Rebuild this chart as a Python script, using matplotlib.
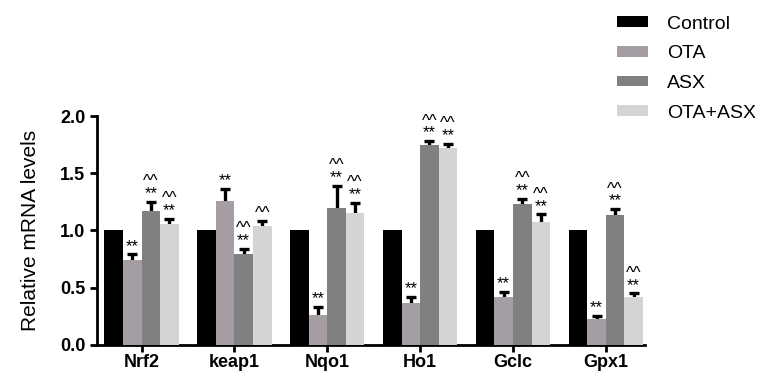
import numpy as np
import matplotlib
matplotlib.use('Agg')
import matplotlib.pyplot as plt

plt.rcParams['font.family'] = ['Liberation Sans', 'DejaVu Sans']

genes = ['Nrf2', 'keap1', 'Nqo1', 'Ho1', 'Gclc', 'Gpx1']
groups = ['Control', 'OTA', 'ASX', 'OTA+ASX']
colors = ['#000000', '#a49ea4', '#808080', '#d4d4d4']

control = [1.0, 1.0, 1.0, 1.0, 1.0, 1.0]
ota = [0.74, 1.26, 0.26, 0.37, 0.42, 0.23]
asx = [1.17, 0.79, 1.20, 1.75, 1.23, 1.135]
ota_asx = [1.06, 1.04, 1.155, 1.72, 1.07, 0.42]

ctrl_err = [0, 0, 0, 0, 0, 0]
ota_err = [0.05, 0.10, 0.07, 0.05, 0.04, 0.02]
asx_err = [0.08, 0.05, 0.19, 0.03, 0.045, 0.05]
ota_asx_err = [0.04, 0.04, 0.085, 0.035, 0.07, 0.03]

# significance marks per bar (written top line first)
ota_sig = ['**', '**', '**', '**', '**', '**']
asx_sig = ['^^\n**'] * 6
ota_asx_sig = ['^^\n**', '^^', '^^\n**', '^^\n**', '^^\n**', '^^\n**']

values = [control, ota, asx, ota_asx]
errors = [ctrl_err, ota_err, asx_err, ota_asx_err]
sigs = [None, ota_sig, asx_sig, ota_asx_sig]

fig = plt.figure(figsize=(7.76, 3.72), dpi=100)
ax = fig.add_axes([0.125, 0.073, 0.706, 0.615])

x = np.arange(len(genes))
w = 0.2
for i in range(4):
    pos = x + (i - 1.5) * w
    # bars drawn over the symmetric error bars so only the upper half shows
    ax.bar(pos, values[i], w, color=colors[i], label=groups[i], zorder=3)
    if i > 0:
        ax.errorbar(pos, values[i], yerr=errors[i],
                    fmt='none', ecolor='black', elinewidth=2.4, capsize=3.5,
                    capthick=2.4, zorder=2)
        for j in range(len(genes)):
            top = values[i][j] + errors[i][j]
            ax.annotate(sigs[i][j], (pos[j], top), xytext=(0, 0.5), textcoords='offset points',
                        ha='center', va='bottom', fontsize=12, linespacing=0.75)

ax.set_xlim(-0.48, 5.42)
ax.set_ylim(0, 2.0)
ax.set_yticks([0.0, 0.5, 1.0, 1.5, 2.0])
ax.set_yticklabels(['0.0', '0.5', '1.0', '1.5', '2.0'], fontsize=13, fontweight='bold')
ax.set_xticks(x)
ax.set_xticklabels(genes, fontsize=13, fontweight='bold')
ax.set_ylabel('Relative mRNA levels', fontsize=15, labelpad=14)
ax.spines['top'].set_visible(False)
ax.spines['right'].set_visible(False)
ax.spines['left'].set_linewidth(2)
ax.spines['bottom'].set_linewidth(2)
ax.tick_params(axis='both', direction='out', width=2, length=5)
ax.tick_params(axis='x', pad=1.5)

fig.legend(loc='upper left', bbox_to_anchor=(0.772, 1.005), frameon=False, fontsize=14,
           handlelength=1.6, handleheight=0.45, labelspacing=0.65, handletextpad=1.0)

plt.savefig('out.png', dpi=100)
